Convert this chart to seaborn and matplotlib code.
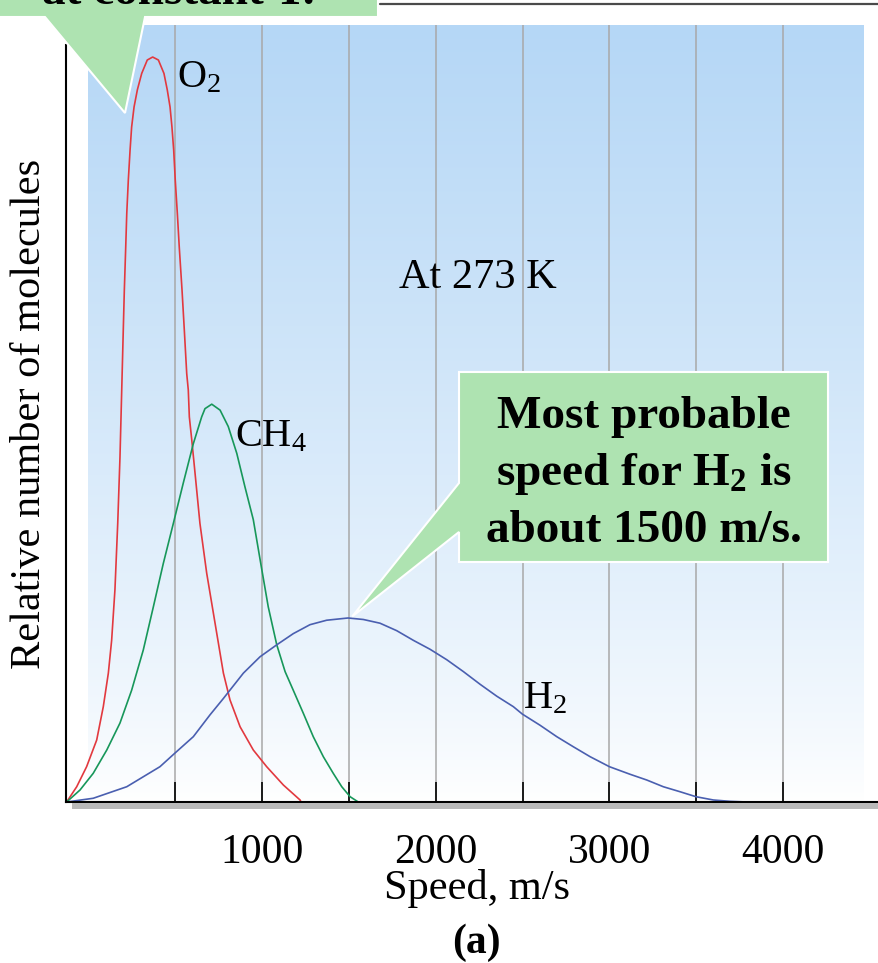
import numpy as np
import pandas as pd
import matplotlib
matplotlib.use("Agg")
import matplotlib.pyplot as plt
import seaborn as sns
from matplotlib.patches import Polygon, Rectangle
from matplotlib.lines import Line2D

# ---------------- data ----------------
o2_speed = [-123, -65, -8, 50, 88, 117, 136, 155, 171, 184, 194, 203, 209, 217, 223, 232,
            242, 251, 265, 284, 309, 341, 372, 405, 437, 456, 472, 483, 493, 502, 514, 525,
            541, 554, 568, 577, 583, 597, 616, 644, 683, 731, 779, 817, 875, 951, 1028,
            1124, 1220, 1226]
o2_rel = [0, 2.05, 4.74, 8.32, 12.8, 17.3, 21.7, 28.5, 37.4, 46.3, 55.3, 63.4, 68.7, 74.5,
          79.0, 83.5, 87.5, 90.6, 93.3, 95.6, 97.8, 99.6, 100, 99.6, 97.8, 95.6, 93.3, 90.6,
          87.5, 83.5, 79.0, 74.5, 68.7, 63.4, 57.5, 55.3, 51.7, 48.6, 44.1, 37.4, 30.7, 24.0,
          17.3, 13.7, 10.1, 6.98, 4.74, 2.28, 0.27, 0]

ch4_speed = [-123, -46, 30, 108, 184, 251, 318, 376, 433, 491, 548, 606, 654, 673, 712,
             760, 807, 856, 903, 951, 997, 1037, 1086, 1134, 1181, 1239, 1296, 1354, 1411,
             1460, 1508, 1555]
ch4_rel = [0, 1.61, 3.85, 6.98, 10.6, 15.0, 20.4, 26.2, 32.0, 37.4, 42.8, 48.1, 51.7, 52.8,
           53.4, 52.6, 50.4, 46.8, 42.3, 37.9, 31.6, 26.2, 21.1, 17.5, 15.0, 11.9, 8.77,
           6.08, 3.85, 2.05, 0.71, 0]

h2_speed = [-123, 30, 223, 414, 499, 606, 702, 779, 894, 990, 1086, 1181, 1277, 1373, 1496,
            1584, 1680, 1776, 1872, 1968, 2064, 2160, 2256, 2352, 2447, 2499, 2601, 2697,
            2792, 2889, 3000, 3119, 3215, 3310, 3406, 3498, 3598, 3694, 3790]
h2_rel = [0, 0.5, 2.05, 4.74, 6.54, 8.77, 11.7, 13.9, 17.3, 19.5, 21.1, 22.6, 23.8, 24.4,
          24.7, 24.5, 24.0, 23.0, 21.7, 20.5, 19.1, 17.5, 15.8, 14.2, 12.8, 11.8, 10.3, 8.77,
          7.42, 6.08, 4.74, 3.72, 2.95, 2.05, 1.38, 0.71, 0.27, 0.09, 0]

gases = ["O2", "CH4", "H2"]
gas_labels = [r"O$_2$", r"CH$_4$", r"H$_2$"]
gas_colors = {"O2": "#e2393f", "CH4": "#17975a", "H2": "#4a5fb0"}

tick_values = [500, 1000, 1500, 2000, 2500, 3000, 3500, 4000]
tick_labels = ["", "1000", "", "2000", "", "3000", "", "4000"]

# ---------------- style ----------------
sns.set_theme(style="white")
plt.rcParams["font.family"] = ["Liberation Serif", "DejaVu Serif"]
plt.rcParams["mathtext.fontset"] = "custom"
plt.rcParams["mathtext.rm"] = "Liberation Serif"
plt.rcParams["mathtext.it"] = "Liberation Serif:italic"
plt.rcParams["mathtext.bf"] = "Liberation Serif:bold"
plt.rcParams["text.color"] = "black"
plt.rcParams["axes.labelcolor"] = "black"
plt.rcParams["xtick.color"] = "black"

W, H = 879, 963
fig = plt.figure(figsize=(W / 100, H / 100), dpi=100)
fig.patch.set_facecolor("white")


def fx(px):
    return px / W


def fy(py):
    return 1 - py / H


ax = fig.add_axes([fx(66), fy(802), fx(879) - fx(66), fy(25) - fy(802)])
ax.set_facecolor("white")

XMIN, XMAX = -126.6, 4551
YMAX = 104.3

# background gradient panel
t = np.linspace(0, 1, 256)[:, None] ** 0.8
top = np.array([181, 215, 246]) / 255
bot = np.array([255, 255, 255]) / 255
img = bot + (top - bot) * t[..., None]
ax.imshow(img, origin="lower", extent=[0, 4460, 0, YMAX], aspect="auto",
          zorder=0, interpolation="bilinear")

# curves
df = pd.concat([
    pd.DataFrame({"speed": o2_speed, "rel": o2_rel, "gas": "O2"}),
    pd.DataFrame({"speed": ch4_speed, "rel": ch4_rel, "gas": "CH4"}),
    pd.DataFrame({"speed": h2_speed, "rel": h2_rel, "gas": "H2"}),
], ignore_index=True)
sns.lineplot(data=df, x="speed", y="rel", hue="gas", palette=gas_colors,
             estimator=None, sort=False, legend=False, lw=1.2, ax=ax, zorder=3)

ax.set_xlim(XMIN, XMAX)
ax.set_ylim(0, YMAX)

# axes styling
ax.set_xticks(tick_values)
ax.set_xticklabels(tick_labels)
ax.set_yticks([])
ax.tick_params(axis="x", bottom=True, top=False, direction="in", length=14.4,
               width=1.2, color="black", pad=23, labelsize=30, labelcolor="black")
ax.xaxis.grid(True, color="#a8a8a8", lw=1.1)
ax.yaxis.grid(False)
ax.set_axisbelow(True)
for s in ["top", "right"]:
    ax.spines[s].set_visible(False)
for s in ["left", "bottom"]:
    ax.spines[s].set_color("black")
    ax.spines[s].set_linewidth(1.5)
    ax.spines[s].set_zorder(4)
ax.spines["left"].set_bounds(0, 101.6)

ax.set_xlabel("Speed, m/s", fontsize=30.5, color="black")
ax.xaxis.label.set_va("baseline")
ax.xaxis.set_label_coords((477 - 66) / 813, (802 - 899) / 777)
ax.set_ylabel("Relative number of molecules", fontsize=30.5, color="black")
ax.yaxis.label.set_va("center")
ax.yaxis.set_label_coords((30 - 66) / 813, (802 - 414) / 777)

# curve labels
label_pos = {"O2": (512, 96.0), "CH4": (846, 47.7), "H2": (2503, 12.6)}
for g, lab in zip(gases, gas_labels):
    x, y = label_pos[g]
    ax.text(x, y, lab, fontsize=29, ha="left", va="baseline", color="black", zorder=5)
ax.text(2244, 69.0, "At 273 K", fontsize=30.5, ha="center", va="baseline", color="black",
        zorder=5)

# axis shadow
fig.add_artist(Rectangle((fx(72), fy(809)), fx(879) - fx(72), fy(803) - fy(809),
                         transform=fig.transFigure, facecolor="#b9b9b9", edgecolor="none",
                         zorder=1))

# callout for H2 peak
green = "#aee3b1"
tip_disp = ax.transData.transform((1520, 24.9))
tip_fig = fig.transFigure.inverted().transform(tip_disp)
box_pts = [(fx(459), fy(372)), (fx(828), fy(372)), (fx(828), fy(562)), (fx(459), fy(562)),
           (fx(459), fy(532)), tuple(tip_fig), (fx(459), fy(483))]
fig.add_artist(Polygon(box_pts, closed=True, transform=fig.transFigure, facecolor=green,
                       edgecolor="white", lw=1.5, zorder=10))
cx = fx(643.5)
fig.text(cx, fy(428), "Most probable", fontsize=34, fontweight="bold", ha="center",
         va="baseline", zorder=11)
fig.text(cx, fy(485), r"speed for $\mathbf{H_2}$ is", fontsize=34, fontweight="bold",
         ha="center", va="baseline", zorder=11)
fig.text(cx, fy(542), "about 1500 m/s.", fontsize=34, fontweight="bold", ha="center",
         va="baseline", zorder=11)

# cropped callout at top-left
tl_pts = [(fx(-3), fy(-3)), (fx(378), fy(-3)), (fx(378), fy(17)), (fx(145), fy(17)),
          (fx(125), fy(113)), (fx(45), fy(17)), (fx(-3), fy(17))]
fig.add_artist(Polygon(tl_pts, closed=True, transform=fig.transFigure, facecolor=green,
                       edgecolor="white", lw=1.5, zorder=10))
fig.text(fx(178), fy(4), "at constant T.", fontsize=34, fontweight="bold", ha="center",
         va="baseline", zorder=11)

# page rule at top-right
fig.add_artist(Line2D([fx(380), fx(879)], [fy(4), fy(4)], transform=fig.transFigure,
                      color="#4a4a4a", lw=1.6, zorder=10))

# panel label
fig.text(fx(476), fy(953), "(a)", fontsize=30, fontweight="bold", ha="center", va="baseline")

fig.savefig("out.png", dpi=100)
